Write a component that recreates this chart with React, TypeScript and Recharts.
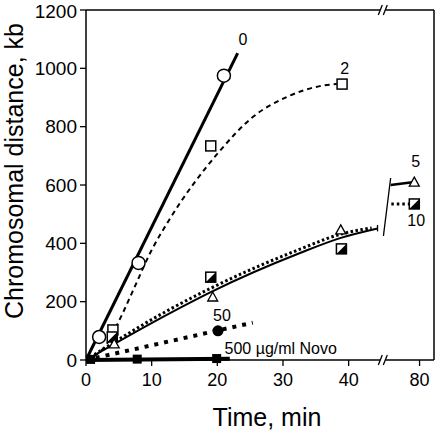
import {
  ComposedChart,
  Line,
  ReferenceDot,
  ReferenceLine,
  Scatter,
  XAxis,
  YAxis,
} from "recharts";

const FONT = '"Liberation Sans", Arial, Helvetica, sans-serif';

// the time axis is broken after ~45 min; later times get shifted left
const GAP_FROM = 46;
const GAP_SHIFT = 29.2;
const pos = (t: number) => (t > GAP_FROM ? t - GAP_SHIFT : t);
const X_MAX = 53;
const BREAK_X = 45.2;

const xTicks = [0, 10, 20, 30, 40, 80];
const yTicks = [0, 200, 400, 600, 800, 1000, 1200];

// measured points (min, kb)
const circT = [2, 8, 21];
const circKb = [79, 333, 975];
const sqT = [4.1, 19, 39];
const sqKb = [103, 734, 946];
const triT = [4.3, 19.3, 38.8, 79.2];
const triKb = [55, 216, 446, 610];
const halfT = [4, 19, 38.9, 79.2];
const halfKb = [79, 284, 381, 535];
const dotT = [20.1];
const dotKb = [100];
const novoT = [0.7, 7.8, 19.9];
const novoKb = [2, 3, 5];

// fitted curves
const fit0T = [0, 23.1];
const fit0Kb = [0, 1052];
const fit2T = [0, 3, 5.6, 7, 10, 12.8, 20.2, 25.4, 30.6, 35.6, 38.2];
const fit2Kb = [0, 50, 161, 230, 377, 485, 712, 833, 902, 939, 946];
const fit5T = [0, 12.8, 19, 32.6, 38.7, 44.4];
const fit5Kb = [0, 161, 233, 367, 418, 451];
const fit5bT = [75.6, 79.2];
const fit5bKb = [600, 610];
const fit10T = [0, 12.8, 19, 32.6, 38.7, 43.5];
const fit10Kb = [0, 174, 246, 380, 431, 453];
const fit10bT = [75.7, 78.5];
const fit10bKb = [535, 535];
const fit50T = [0, 25.4];
const fit50Kb = [0, 128];
const fitNovoT = [0, 21.9];
const fitNovoKb = [0, 4];

const labels = [
  { text: "0", t: 23.9, kb: 1100, anchor: "middle" },
  { text: "2", t: 39.4, kb: 998, anchor: "middle" },
  { text: "5", t: 79.4, kb: 679, anchor: "middle" },
  { text: "10", t: 79.5, kb: 480, anchor: "middle" },
  { text: "50", t: 20.7, kb: 151, anchor: "middle" },
  { text: "500 µg/ml Novo", t: 21.1, kb: 38, anchor: "start" },
];

const pts = (ts: number[], vs: number[]) =>
  ts.map((t, i) => ({ x: pos(t), y: vs[i] }));

const OpenCircle = ({ cx, cy }: any) => (
  <circle cx={cx} cy={cy} r={6.5} fill="#fff" stroke="#000" strokeWidth={1.5} />
);
const OpenSquare = ({ cx, cy }: any) => (
  <rect x={cx - 5} y={cy - 5} width={10} height={10} fill="#fff" stroke="#000" strokeWidth={1.5} />
);
const OpenTriangle = ({ cx, cy }: any) => (
  <polygon
    points={`${cx},${cy - 5} ${cx + 5},${cy + 4} ${cx - 5},${cy + 4}`}
    fill="#fff"
    stroke="#000"
    strokeWidth={1.3}
  />
);
const HalfSquare = ({ cx, cy }: any) => (
  <g>
    <rect x={cx - 5} y={cy - 5} width={10} height={10} fill="#fff" stroke="#000" strokeWidth={1.5} />
    <polygon points={`${cx + 5},${cy - 5} ${cx + 5},${cy + 5} ${cx - 5},${cy + 5}`} fill="#000" />
  </g>
);
const FilledCircle = ({ cx, cy }: any) => <circle cx={cx} cy={cy} r={5.5} fill="#000" />;
const FilledSquare = ({ cx, cy }: any) => (
  <rect x={cx - 4.5} y={cy - 4.5} width={9} height={9} fill="#000" />
);

const AxisBreak = ({ cx, cy }: any) => (
  <g>
    <line x1={cx - 2.5} y1={cy} x2={cx + 2.5} y2={cy} stroke="#fff" strokeWidth={4} />
    <line x1={cx - 4.5} y1={cy + 5} x2={cx - 0.5} y2={cy - 5} stroke="#000" strokeWidth={1.3} />
    <line x1={cx + 0.5} y1={cy + 5} x2={cx + 4.5} y2={cy - 5} stroke="#000" strokeWidth={1.3} />
  </g>
);

const YTitle = () => (
  <text
    x={23}
    y={171}
    transform="rotate(-90 23 171)"
    textAnchor="middle"
    fontSize={25}
    fontFamily={FONT}
    fill="#000"
  >
    Chromosomal distance, kb
  </text>
);

export default function App() {
  return (
    <div style={{ position: "absolute", left: 0, top: 0, background: "#fff" }}>
      <ComposedChart
        width={440}
        height={432}
        margin={{ top: 10, right: 6, bottom: 0, left: 0 }}
      >
        <XAxis
          type="number"
          dataKey="x"
          domain={[0, X_MAX]}
          ticks={xTicks.map(pos)}
          tickFormatter={(v: number) => String(v > BREAK_X ? Math.round(v + GAP_SHIFT) : v)}
          height={72}
          tickSize={6}
          tickMargin={7}
          axisLine={{ stroke: "#000", strokeWidth: 1.5 }}
          tickLine={{ stroke: "#000", strokeWidth: 1.3 }}
          tick={{ fill: "#000", fontSize: 18, fontFamily: FONT }}
          allowDataOverflow
        />
        <YAxis
          type="number"
          dataKey="y"
          domain={[0, 1200]}
          ticks={yTicks}
          width={86}
          tickSize={6}
          tickMargin={3}
          axisLine={{ stroke: "#000", strokeWidth: 1.5 }}
          tickLine={{ stroke: "#000", strokeWidth: 1.3 }}
          tick={{ fill: "#000", fontSize: 19, fontFamily: FONT }}
          label={{ content: () => <YTitle /> }}
        />
        <ReferenceLine y={1200} stroke="#000" strokeWidth={1.5} ifOverflow="visible" />
        <ReferenceLine x={X_MAX} stroke="#000" strokeWidth={1.5} ifOverflow="visible" />

        <Line data={pts(fit2T, fit2Kb)} dataKey="y" type="monotone" stroke="#000" strokeWidth={2} strokeDasharray="5 4" dot={false} isAnimationActive={false} />
        <Line data={pts(fit0T, fit0Kb)} dataKey="y" type="linear" stroke="#000" strokeWidth={3} dot={false} isAnimationActive={false} />
        <Line data={pts(fit10T, fit10Kb)} dataKey="y" type="monotone" stroke="#000" strokeWidth={3} strokeDasharray="2.5 2.5" dot={false} isAnimationActive={false} />
        <Line data={pts(fit5T, fit5Kb)} dataKey="y" type="monotone" stroke="#000" strokeWidth={2} dot={false} isAnimationActive={false} />
        <Line data={pts(fit5bT, fit5bKb)} dataKey="y" type="linear" stroke="#000" strokeWidth={2.5} dot={false} isAnimationActive={false} />
        <Line data={pts(fit10bT, fit10bKb)} dataKey="y" type="linear" stroke="#000" strokeWidth={3} strokeDasharray="2.5 3" dot={false} isAnimationActive={false} />
        <Line data={pts(fit50T, fit50Kb)} dataKey="y" type="linear" stroke="#000" strokeWidth={4} strokeDasharray="4 6" dot={false} isAnimationActive={false} />
        <Line data={pts(fitNovoT, fitNovoKb)} dataKey="y" type="linear" stroke="#000" strokeWidth={4} dot={false} isAnimationActive={false} />

        <ReferenceLine
          segment={[{ x: 46.4, y: 624 }, { x: 45.3, y: 425 }]}
          stroke="#000"
          strokeWidth={1.3}
          ifOverflow="visible"
        />
        <ReferenceLine
          segment={[{ x: 44.4, y: 441 }, { x: 44.4, y: 463 }]}
          stroke="#000"
          strokeWidth={1.3}
          ifOverflow="visible"
        />

        <Scatter data={pts(novoT, novoKb)} shape={FilledSquare} isAnimationActive={false} />
        <Scatter data={pts(dotT, dotKb)} shape={FilledCircle} isAnimationActive={false} />
        <Scatter data={pts(sqT, sqKb)} shape={OpenSquare} isAnimationActive={false} />
        <Scatter data={pts(halfT, halfKb)} shape={HalfSquare} isAnimationActive={false} />
        <Scatter data={pts(triT, triKb)} shape={OpenTriangle} isAnimationActive={false} />
        <Scatter data={pts(circT, circKb)} shape={OpenCircle} isAnimationActive={false} />

        <ReferenceDot x={BREAK_X} y={0} ifOverflow="visible" shape={AxisBreak} />
        <ReferenceDot x={BREAK_X} y={1200} ifOverflow="visible" shape={AxisBreak} />

        {labels.map((l) => (
          <ReferenceDot
            key={l.text}
            x={pos(l.t)}
            y={l.kb}
            ifOverflow="visible"
            shape={({ cx, cy }: any) => (
              <text
                x={cx}
                y={cy}
                textAnchor={l.anchor as any}
                dominantBaseline="central"
                fontSize={16}
                fontFamily={FONT}
                fill="#000"
              >
                {l.text}
              </text>
            )}
          />
        ))}
      </ComposedChart>
      <svg
        width={440}
        height={432}
        style={{ position: "absolute", left: 0, top: 0, pointerEvents: "none" }}
      >
        <text x={267} y={426} textAnchor="middle" fontSize={25} fontFamily={FONT} fill="#000">
          Time, min
        </text>
      </svg>
    </div>
  );
}
